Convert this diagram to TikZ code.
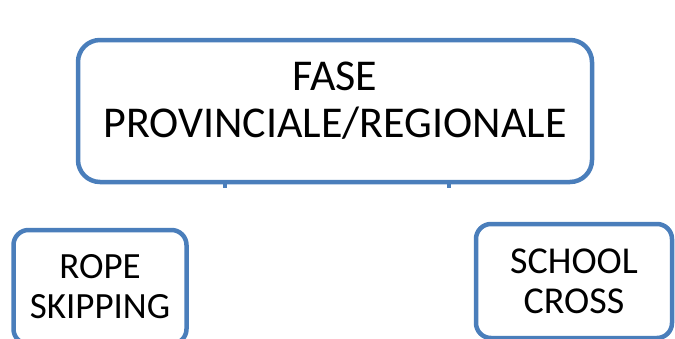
\documentclass[tikz,border=0pt]{standalone}
\usepackage{fontspec}
\setmainfont{Carlito}
\definecolor{boxblue}{RGB}{74,126,187}

\begin{document}
\begin{tikzpicture}[x=1pt,y=-1pt]
\useasboundingbox (0,0) rectangle (675,338);
\clip (0,0) rectangle (675,338);
\begin{scope}[every node/.style={draw=boxblue,line width=4.5pt,align=center,inner sep=0pt}]

\node[minimum width=514pt,minimum height=142pt,rounded corners=22pt,text depth=22pt,font=\fontsize{44}{47}\selectfont] (fase) at (335,111) {FASE\\PROVINCIALE/REGIONALE};
\node[minimum width=173pt,minimum height=114pt,rounded corners=15pt,font=\fontsize{37}{40}\selectfont] (rope) at (100,287) {ROPE\\SKIPPING};
\node[minimum width=196pt,minimum height=114pt,rounded corners=15pt,font=\fontsize{38}{40}\selectfont] (cross) at (574,281) {SCHOOL\\CROSS};

\end{scope}

% stubs under the main box
\coordinate (stubl) at (225,188);
\coordinate (stubr) at (449,188);
\draw[boxblue,line width=4pt] (fase.south -| stubl) -- (stubl);
\draw[boxblue,line width=4pt] (fase.south -| stubr) -- (stubr);
\end{tikzpicture}
\end{document}
